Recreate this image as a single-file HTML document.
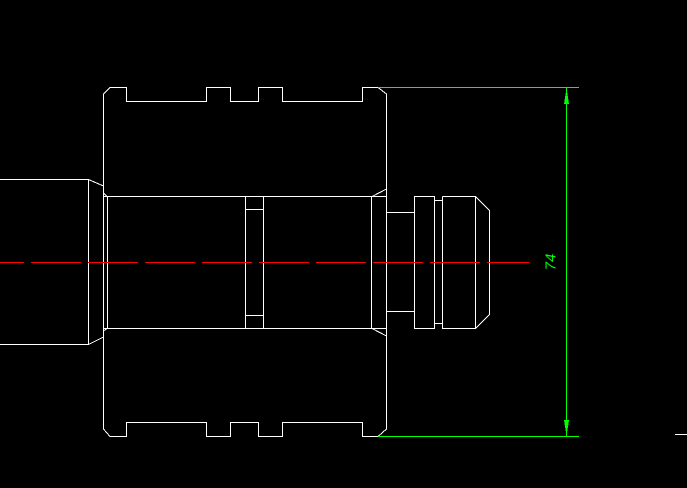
<!DOCTYPE html>
<html><head><meta charset="utf-8"><style>
html,body{margin:0;padding:0;background:#000;}
svg{display:block;}
</style></head><body>
<svg width="687" height="488" viewBox="0 0 687 488" xmlns="http://www.w3.org/2000/svg" shape-rendering="crispEdges">
<rect width="687" height="488" fill="#000"/>
<g fill="none" stroke="#fff" stroke-width="1">
<!-- body outline -->
<polyline points="103.5,186 103.5,94 110,87.5 126.5,87.5 126.5,101.5 206.5,101.5 206.5,87.5 230.5,87.5 230.5,101.5 258.5,101.5 258.5,87.5 282.5,87.5 282.5,101.5 362.5,101.5 362.5,87.5 378,87.5 386.5,94 386.5,189"/>
<polyline points="103.5,337 103.5,429 110,436.5 126.5,436.5 126.5,422.5 206.5,422.5 206.5,436.5 230.5,436.5 230.5,422.5 258.5,422.5 258.5,436.5 282.5,436.5 282.5,422.5 362.5,422.5 362.5,436.5 378,436.5 386.5,429 386.5,334"/>
<!-- left shaft -->
<polyline points="0,179.5 88.5,179.5 103.5,186"/>
<polyline points="0,344.5 88.5,344.5 103.5,337"/>
<line x1="88.5" y1="179.5" x2="88.5" y2="344.5"/>
<line x1="103.5" y1="186" x2="103.5" y2="337"/>
<!-- bore -->
<line x1="103.5" y1="196.5" x2="386.5" y2="196.5"/>
<line x1="103.5" y1="328.5" x2="386.5" y2="328.5"/>
<line x1="103.5" y1="193" x2="107" y2="196.5"/>
<line x1="103.5" y1="331" x2="107" y2="328.5"/>
<line x1="107.5" y1="196.5" x2="107.5" y2="328.5"/>
<line x1="245.5" y1="196.5" x2="245.5" y2="328.5"/>
<line x1="263.5" y1="196.5" x2="263.5" y2="328.5"/>
<line x1="245.5" y1="209.5" x2="263.5" y2="209.5"/>
<line x1="245.5" y1="315.5" x2="263.5" y2="315.5"/>
<line x1="371.5" y1="196.5" x2="371.5" y2="328.5"/>
<line x1="372" y1="196.5" x2="386.5" y2="189"/>
<line x1="372" y1="328.5" x2="386.5" y2="336"/>
<line x1="386.5" y1="189" x2="386.5" y2="336"/>
<!-- right spigot -->
<polyline points="386.5,212.5 414.5,212.5"/>
<polyline points="386.5,311.5 414.5,311.5"/>
<rect x="414.5" y="196.5" width="20" height="132"/>
<polyline points="434.5,200.5 442.5,200.5"/>
<polyline points="434.5,323.5 442.5,323.5"/>
<polyline points="442.5,196.5 475.5,196.5 489.5,210.5 489.5,314.5 475.5,328.5 442.5,328.5 442.5,196.5"/>
<line x1="475.5" y1="196.5" x2="475.5" y2="328.5"/>
<line x1="675" y1="434.5" x2="687" y2="434.5"/>
</g>
<!-- centerline -->
<line x1="0" y1="262.5" x2="529" y2="262.5" stroke="#f00" stroke-width="1" stroke-dasharray="50 7" stroke-dashoffset="26"/>
<!-- dimension -->
<g stroke="#0f0" stroke-width="1" fill="none">
<line x1="378" y1="87.5" x2="579" y2="87.5"/>
<line x1="378" y1="436.5" x2="579" y2="436.5"/>
<line x1="566.5" y1="88" x2="566.5" y2="436"/>
</g>
<polygon points="566.5,88 569,104 564,104" fill="#0f0"/>
<polygon points="566.5,436 569,420 564,420" fill="#0f0"/>
<text x="551" y="262" transform="rotate(-90 551 262)" fill="#0f0" font-family="Liberation Sans, sans-serif" font-size="15" font-style="italic" text-anchor="middle" dominant-baseline="central">74</text>
</svg>
</body></html>
